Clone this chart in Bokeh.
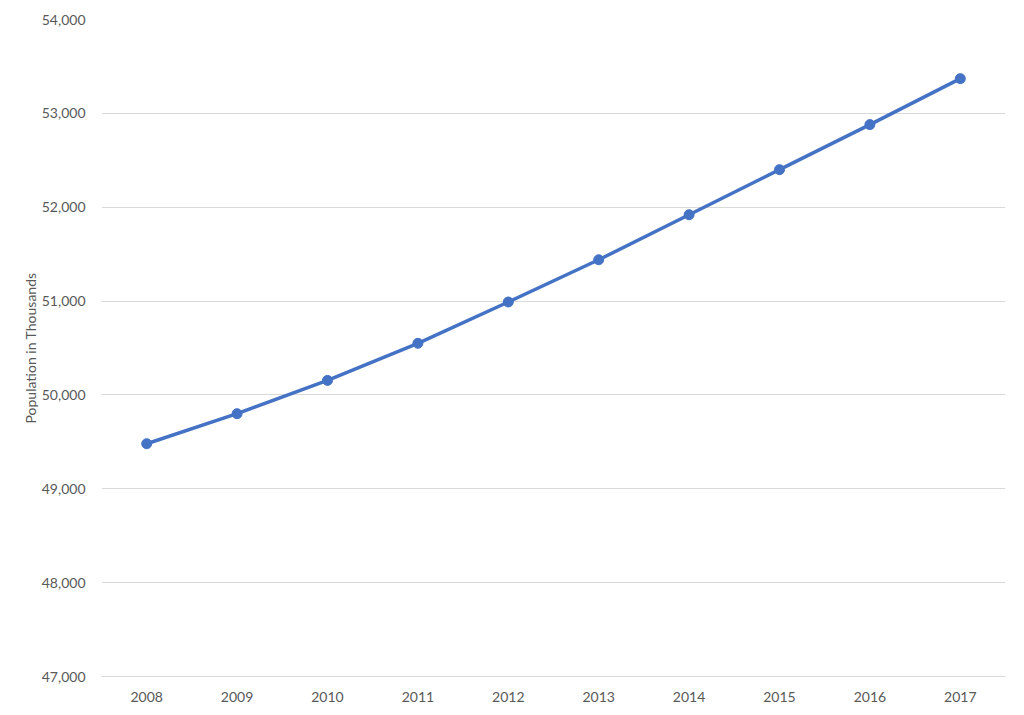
from bokeh.plotting import figure
from bokeh.models import FixedTicker, NumeralTickFormatter, Range1d
from bokeh.embed import file_html
from bokeh.resources import INLINE

years = ["2008", "2009", "2010", "2011", "2012", "2013", "2014", "2015", "2016", "2017"]
population = [49480, 49800, 50155, 50550, 50990, 51440, 51920, 52400, 52880, 53370]
y_ticks = [47000, 48000, 49000, 50000, 51000, 52000, 53000, 54000]

FONT = "Lato"
TXT = "#595959"
BLUE = "#4472C4"

p = figure(width=1016, height=707, x_range=years, y_range=Range1d(47000, 54000),
           output_backend="svg", toolbar_location=None,
           min_border_left=101, min_border_right=11, min_border_top=19, min_border_bottom=31)

p.line(years, population, line_color=BLUE, line_width=3.5)
p.scatter(years, population, size=10, fill_color=BLUE, line_color=BLUE)

p.outline_line_color = None
p.xgrid.grid_line_color = None
p.ygrid.grid_line_color = "#d9d9d9"
p.ygrid.grid_line_width = 1

p.yaxis.ticker = FixedTicker(ticks=y_ticks)
p.yaxis.formatter = NumeralTickFormatter(format="0,0")
p.yaxis.axis_label = "Population in Thousands"
p.yaxis.axis_label_text_font = FONT
p.yaxis.axis_label_text_font_style = "normal"
p.yaxis.axis_label_text_font_size = "14px"
p.yaxis.axis_label_text_color = TXT
p.yaxis.axis_label_standoff = 0

for ax in (p.xaxis[0], p.yaxis[0]):
    ax.axis_line_color = None
    ax.major_tick_line_color = None
    ax.minor_tick_line_color = None
    ax.major_label_text_font = FONT
    ax.major_label_text_font_size = "14px"
    ax.major_label_text_color = TXT

p.yaxis.major_label_standoff = 10
p.xaxis.major_label_standoff = 9
p.xaxis.axis_line_color = "#d9d9d9"

open("out.html", "w").write(file_html(p, INLINE))
